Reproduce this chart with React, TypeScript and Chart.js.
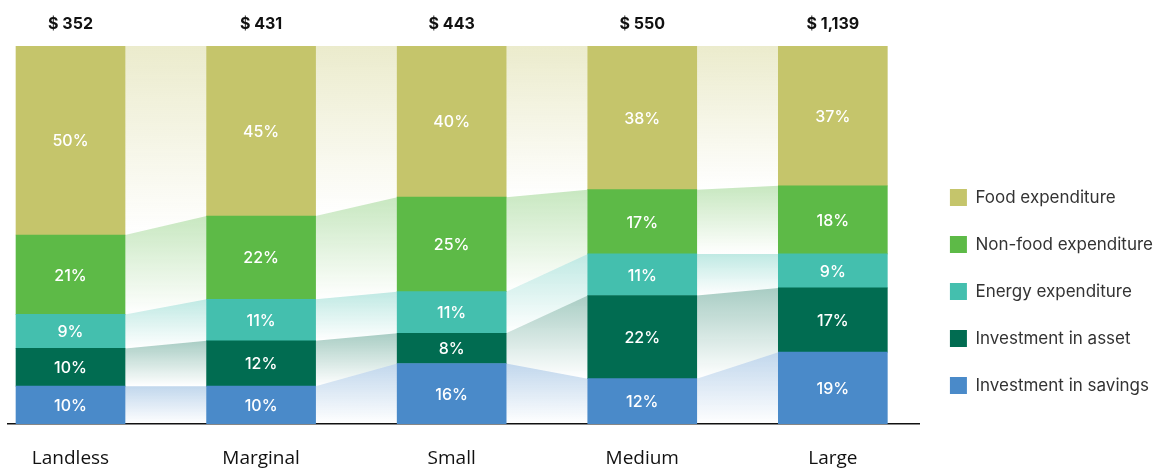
import React, { useEffect, useRef } from "react";
import { Chart, registerables } from "chart.js";

Chart.register(...registerables);

const categories = ["Landless", "Marginal", "Small", "Medium", "Large"];
const totals = [352, 431, 443, 550, 1139];
const savings = [10, 10, 16, 12, 19];
const asset = [10, 12, 8, 22, 17];
const energy = [9, 11, 11, 11, 9];
const nonFood = [21, 22, 25, 17, 18];
const food = [50, 45, 40, 38, 37];

const seriesNames = [
  "Investment in savings",
  "Investment in asset",
  "Energy expenditure",
  "Non-food expenditure",
  "Food expenditure",
];
const seriesColors = ["#4A8AC9", "#016C51", "#44BFAE", "#5DBA47", "#C5C56B"];
const seriesValues = [savings, asset, energy, nonFood, food];

function hexToRgba(hex: string, a: number) {
  const n = parseInt(hex.slice(1), 16);
  return `rgba(${(n >> 16) & 255},${(n >> 8) & 255},${n & 255},${a})`;
}

const ribbonPlugin = {
  id: "ribbons",
  beforeDatasetsDraw(chart: any) {
    const ctx = chart.ctx;
    chart.data.datasets.forEach((ds: any, d: number) => {
      const meta = chart.getDatasetMeta(d);
      for (let i = 0; i < meta.data.length - 1; i++) {
        const a = meta.data[i].getProps(["x", "y", "base", "width"], true);
        const b = meta.data[i + 1].getProps(["x", "y", "base", "width"], true);
        const x1 = a.x + a.width / 2;
        const x2 = b.x - b.width / 2;
        const top = Math.min(a.y, b.y);
        const bottom = Math.max(a.base, b.base);
        const g = ctx.createLinearGradient(0, top, 0, bottom);
        g.addColorStop(0, hexToRgba(ds.backgroundColor, 0.34));
        g.addColorStop(1, hexToRgba(ds.backgroundColor, 0.0));
        ctx.save();
        ctx.beginPath();
        ctx.moveTo(x1, a.y);
        ctx.lineTo(x2, b.y);
        ctx.lineTo(x2, b.base);
        ctx.lineTo(x1, a.base);
        ctx.closePath();
        ctx.fillStyle = g;
        ctx.fill();
        ctx.restore();
      }
    });
  },
};

const labelPlugin = {
  id: "segLabels",
  afterDatasetsDraw(chart: any) {
    const ctx = chart.ctx;
    ctx.save();
    ctx.fillStyle = "#ffffff";
    ctx.textAlign = "center";
    ctx.textBaseline = "middle";
    ctx.font = "500 16px Inter, 'Noto Sans', sans-serif";
    chart.data.datasets.forEach((ds: any, d: number) => {
      const meta = chart.getDatasetMeta(d);
      meta.data.forEach((el: any, i: number) => {
        const p = el.getProps(["x", "y", "base"], true);
        ctx.fillText(seriesValues[d][i] + "%", p.x, (p.y + p.base) / 2 + 1);
      });
    });
    // totals above bars
    const meta0 = chart.getDatasetMeta(0);
    ctx.fillStyle = "#111111";
    ctx.font = "700 16px Inter, 'Noto Sans', sans-serif";
    meta0.data.forEach((el: any, i: number) => {
      ctx.fillText("$ " + totals[i].toLocaleString("en-US"), el.x, chart.chartArea.top - 22);
    });
    ctx.restore();
  },
};

export default function App() {
  const ref = useRef<HTMLCanvasElement | null>(null);
  useEffect(() => {
    document.body.style.margin = "0";
    const canvas = ref.current!;
    const chart = new Chart(canvas, {
      type: "bar",
      data: {
        datasets: seriesValues.map((vals, k) => ({
          label: seriesNames[k],
          data: vals.map((v, i) => ({ x: i, y: v })),
          backgroundColor: seriesColors[k],
          borderWidth: 0,
          barThickness: 109,
        })),
      } as any,
      options: {
        animation: false,
        responsive: false,
        layout: { padding: { top: 46, left: 8, right: -3, bottom: 0 } },
        scales: {
          x: {
            type: "linear",
            offset: false,
            min: -0.328,
            max: 4.457,
            stacked: true,
            grid: { display: false, drawTicks: false },
            border: { display: true, color: "#111111", width: 1.5 },
            afterBuildTicks: (scale: any) => {
              scale.ticks = categories.map((_, i) => ({ value: i }));
            },
            afterFit: (scale: any) => {
              scale.height = 44;
            },
            ticks: {
              padding: 25,
              color: "#111111",
              font: { family: "'Open Sans', sans-serif", size: 19, lineHeight: 1 },
              callback: (v: any) => categories[v] ?? "",
            },
          },
          y: {
            stacked: true,
            min: 0,
            max: 100,
            display: false,
          },
        },
        plugins: {
          legend: {
            position: "right",
            align: "end",
            fullSize: false,
            reverse: true,
            labels: {
              boxWidth: 17,
              boxHeight: 17,
              padding: 30,
              color: "#333333",
              font: { family: "Inter, 'Noto Sans', sans-serif", size: 17 },
            },
          },
          tooltip: { enabled: false },
        },
      } as any,
      plugins: [ribbonPlugin, labelPlugin],
    });
    return () => chart.destroy();
  }, []);
  return (
    <div style={{ width: 1160, height: 468 }}>
      <canvas ref={ref} width={1160} height={468} />
    </div>
  );
}
